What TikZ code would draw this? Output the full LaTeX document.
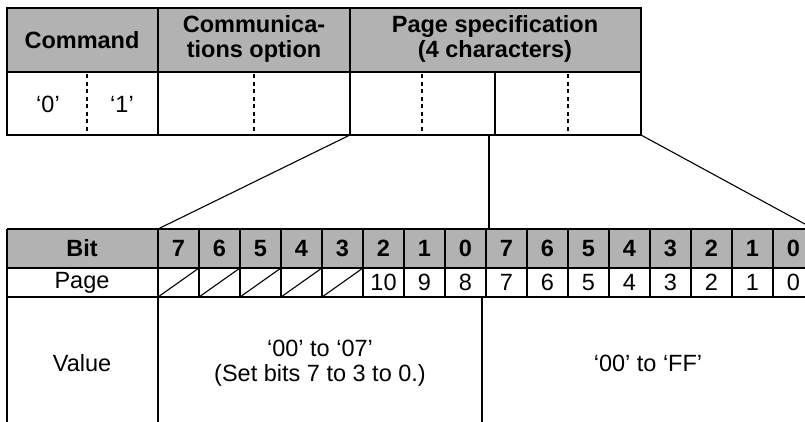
\documentclass[tikz,border=0pt]{standalone}
\usepackage{fontspec}
\setmainfont{Liberation Sans}
\definecolor{hdrgray}{RGB}{178,178,178}
\begin{document}
\begin{tikzpicture}[x=1pt,y=-1pt,
  frame/.style={line width=2pt},
  dashsep/.style={line width=2pt,dash pattern=on 4pt off 3.5pt},
  thinline/.style={line width=1.1pt},
  hdr/.style={fill=hdrgray},
  lbl/.style={font=\fontsize{23.5}{25.5}\selectfont,inner sep=0pt,align=center},
  blbl/.style={font=\fontsize{23.5}{25}\selectfont\bfseries,inner sep=0pt,align=center}]
\useasboundingbox (0,0) rectangle (805,421);
\clip (0,0) rectangle (805,421);
% ---------- top table ----------
\fill[hdr] (7,8) rectangle (641,72);
\draw[frame] (7,8) rectangle (641,135);
\draw[frame] (7,72) -- (641,72);
\draw[frame] (158,8) -- (158,135);
\draw[frame] (350,8) -- (350,135);
\draw[frame] (495,72) -- (495,135);
\foreach \x in {87,254,422,568} \draw[dashsep] (\x,74) -- (\x,135);
\node[blbl] (cmd) at (82,40) {Command};
\node[blbl] (comm) at (254,39) {Communica-\\tions option};
\node[blbl] (pagespec) at (495,39) {Page specification\\(4 characters)};
\node[lbl] (c0) at (48,104) {‘0’};
\node[lbl] (c1) at (122,104) {‘1’};
% corner coordinates of the page specification field
\coordinate (psL) at (350,135);
\coordinate (psM) at (489,135);
\coordinate (psR) at (641,135);
% ---------- bottom table ----------
\fill[hdr] (7,229) rectangle (814,268);
\foreach \i in {0,...,4}
  \draw[thinline] ({158+41*\i},297) -- ({199+41*\i},268);
\draw[frame] (7,229) -- (814,229);
\draw[frame] (7,268) -- (814,268);
\draw[frame] (7,297) -- (814,297);
\draw[frame] (7,229) -- (7,430);
\draw[frame] (158,229) -- (158,430);
\foreach \i in {1,...,16}
  \draw[frame] ({158+41*\i},229) -- ({158+41*\i},297);
\draw[frame] (482,297) -- (482,430);
\draw[frame] (814,229) -- (814,430);
\coordinate (btL) at (158,229);
\coordinate (btM) at (489,229);
\coordinate (btR) at (814,229);
\node[blbl] (bit) at (82,248.5) {Bit};
\foreach \b [count=\i from 0] in {7,6,5,4,3,2,1,0,7,6,5,4,3,2,1,0}
  \node[blbl] (b\i) at ({178.5+41*\i},248.5) {\b};
\node[lbl] (page) at (82,282.5) {Page};
\foreach \p [count=\i from 5] in {10,9,8,7,6,5,4,3,2,1,0}
  \node[lbl] (p\i) at ({178.5+41*\i},282.5) {\p};
\node[lbl] (value) at (82,363) {Value};
\node[lbl] (vlo) at (320,363) {‘00’ to ‘07’\\(Set bits 7 to 3 to 0.)};
\node[lbl] (vhi) at (648,363) {‘00’ to ‘FF’};
% ---------- connectors ----------
\draw[thinline] (psL) -- (btL);
\draw[frame] (psM) -- (btM);
\draw[thinline] (psR) -- (btR);
\end{tikzpicture}
\end{document}
